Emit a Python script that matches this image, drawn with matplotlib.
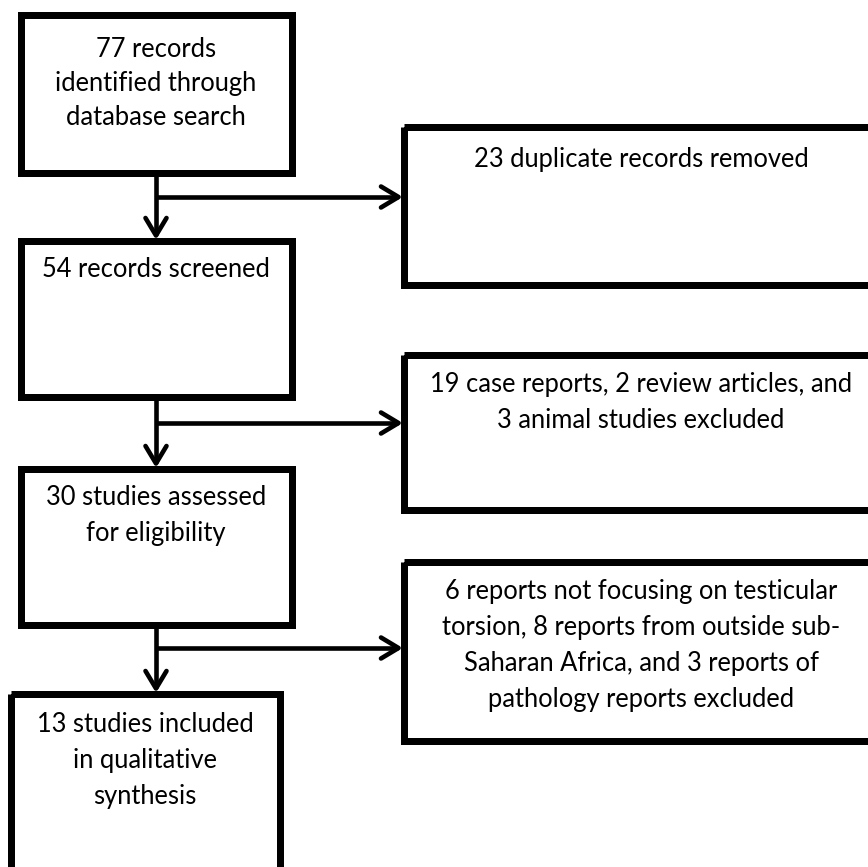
import matplotlib
matplotlib.use("Agg")
import matplotlib.pyplot as plt
from matplotlib.patches import Rectangle

# ---- content ----
main_labels = [
    ["77 records", "identified through", "database search"],
    ["54 records screened"],
    ["30 studies assessed", "for eligibility"],
    ["13 studies included", "in qualitative", "synthesis"],
]
excl_labels = [
    ["23 duplicate records removed"],
    ["19 case reports, 2 review articles, and", "3 animal studies excluded"],
    ["6 reports not focusing on testicular", "torsion, 8 reports from outside sub-",
     "Saharan Africa, and 3 reports of", "pathology reports excluded"],
]

# ---- layout (pixel coordinates, outer edges) ----
W, H = 868, 867
main_boxes = [(17, 295, 11, 176), (17, 295, 237, 400), (17, 295, 465, 628), (7, 283, 690, 905)]
excl_boxes = [(400, 905, 123, 288), (400, 905, 351, 513), (400, 905, 558, 744)]
main_base = [57, 277, 505, 732]
main_step = [34, 36, 36, 36]
main_cx = [156, 156, 156, 145]
excl_base = [167, 392, 599]
excl_step = [36, 36, 36]
excl_cx = [641, 641, 641]
arrow_x = 156
branch_y = [197, 423, 648]

BORDER = 7.0   # px
LINE = 4.6     # px
px2pt = 72 / 100

fig = plt.figure(figsize=(W / 100, H / 100), dpi=100)
ax = fig.add_axes([0, 0, 1, 1])
ax.set_xlim(0, W)
ax.set_ylim(H, 0)
ax.axis("off")

FONT = ["Lato", "DejaVu Sans"]
fs = 17

def draw_box(b):
    x0, x1, y0, y1 = b
    h = BORDER / 2
    ax.add_patch(Rectangle((x0 + h, y0 + h), x1 - x0 - BORDER, y1 - y0 - BORDER,
                           fill=False, edgecolor="black", linewidth=BORDER * px2pt,
                           joinstyle="miter"))

texts = []
def draw_text(lines, cx, base, step):
    for i, ln in enumerate(lines):
        t = ax.text(cx, base + i * step, ln, ha="center", va="baseline",
                    fontsize=fs, family=FONT, color="black")
        texts.append(t)

for b in main_boxes + excl_boxes:
    draw_box(b)
for lines, cx, bl, st in zip(main_labels, main_cx, main_base, main_step):
    draw_text(lines, cx, bl, st)
for lines, cx, bl, st in zip(excl_labels, excl_cx, excl_base, excl_step):
    draw_text(lines, cx, bl, st)

# fit font size to the reference width of the widest line
fig.canvas.draw()
r = fig.canvas.get_renderer()
ref = [t for t in texts if t.get_text().startswith("19 case")][0]
w = ref.get_window_extent(r).width
scale = 422 / w
for t in texts:
    t.set_fontsize(fs * scale)

lw = LINE * px2pt
def chevron(tipx, tipy, direction):
    L, Wd = 19, 10.5
    if direction == "down":
        xs = [tipx - Wd, tipx, tipx + Wd]
        ys = [tipy - L, tipy - 1.5, tipy - L]
    else:
        xs = [tipx - L, tipx - 1.5, tipx - L]
        ys = [tipy - Wd, tipy, tipy + Wd]
    ax.plot(xs, ys, color="black", lw=lw, solid_capstyle="round", solid_joinstyle="round")

for i in range(3):
    top = main_boxes[i][3]
    nxt = main_boxes[i + 1][2]
    ax.plot([arrow_x, arrow_x], [top, nxt - 2], color="black", lw=lw, solid_capstyle="butt")
    chevron(arrow_x, nxt, "down")
    ax.plot([arrow_x, excl_boxes[i][0] - 2], [branch_y[i], branch_y[i]], color="black",
            lw=lw, solid_capstyle="butt")
    chevron(excl_boxes[i][0], branch_y[i], "right")

fig.savefig("out.png", dpi=100, facecolor="white")
